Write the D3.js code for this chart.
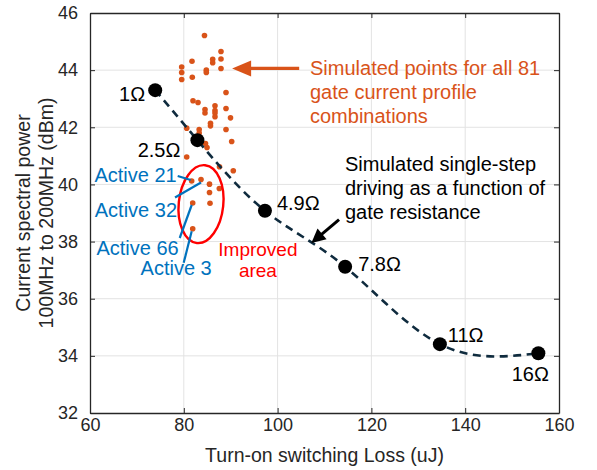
<!DOCTYPE html>
<html>
<head>
<meta charset="utf-8">
<script src="https://cdn.jsdelivr.net/npm/d3@7"></script>
<style>
  body { margin: 0; background: #fff; }
  svg { display: block; font-family: "Liberation Sans", Arial, Helvetica, sans-serif; }
</style>
</head>
<body>
<svg id="chart" width="597" height="470"></svg>
<script>
// Axis ticks
const xTicks = [60, 80, 100, 120, 140, 160];
const yTicks = [32, 34, 36, 38, 40, 42, 44, 46];

// Single-step driving, swept over gate resistance
const resistanceLabels = ["1Ω", "2.5Ω", "4.9Ω", "7.8Ω", "11Ω", "16Ω"];
const resistanceLoss   = [73.9, 82.9, 97.3, 114.4, 134.6, 155.6];
const resistancePower  = [43.3, 41.55, 39.08, 37.12, 34.41, 34.09];

// Gate current profile combinations (turn-on loss in uJ, spectral power in dBm)
const comboLoss = [
  84.41, 87.93, 87.93, 87.93, 86.16, 86.16, 81.75, 79.55, 79.55, 79.55,
  81.81, 84.80, 84.80, 89.00, 81.96, 83.03, 84.52, 84.52, 86.65, 86.65,
  86.65, 86.65, 89.00, 89.96, 85.69, 85.69, 89.00, 83.28, 83.28, 80.62,
  84.63, 84.95, 90.21, 80.62, 87.61, 90.55, 81.68, 83.67, 85.48, 87.57,
  85.48, 85.59, 81.90, 81.90
];
const comboPower = [
  45.21, 44.65, 44.39, 44.06, 44.38, 44.26, 44.31, 44.11, 43.92, 43.67,
  43.75, 44.00, 43.92, 43.22, 42.93, 42.87, 42.62, 42.50, 42.75, 42.59,
  42.50, 42.37, 42.66, 42.33, 42.14, 42.05, 41.92, 41.92, 41.80, 41.97,
  41.43, 41.29, 41.50, 40.96, 40.62, 40.48, 40.12, 40.17, 40.01, 39.86,
  39.72, 39.34, 39.35, 38.45
];

// Highlighted profiles inside the improved area
const activeLabels = ["Active 21", "Active 32", "Active 66", "Active 3"];
const activeLoss   = [81.68, 83.67, 81.90, 81.90];
const activePower  = [40.12, 40.17, 39.35, 38.45];

const W = 597, H = 470;
const margin = { top: 13, right: 38, bottom: 57, left: 90 };

const svg = d3.select("#chart");
const x = d3.scaleLinear().domain([60, 160]).range([margin.left, W - margin.right]);
const y = d3.scaleLinear().domain([32, 46]).range([H - margin.bottom, margin.top]);

const axisColor = "#262626";
const orange = "#D95319";
const blue = "#0072BD";
const red = "#FF0000";

// Grid
const grid = svg.append("g").attr("stroke", "#e3e3e3").attr("stroke-width", 1);
grid.selectAll("line.gx").data(xTicks.slice(1, -1)).join("line")
  .attr("x1", d => x(d)).attr("x2", d => x(d))
  .attr("y1", y(32)).attr("y2", y(46));
grid.selectAll("line.gy").data(yTicks.slice(1, -1)).join("line")
  .attr("x1", x(60)).attr("x2", x(160))
  .attr("y1", d => y(d)).attr("y2", d => y(d));

// Axes with inward ticks on all four sides
function styleAxis(g) {
  g.select(".domain").attr("stroke", axisColor).attr("stroke-width", 1.3);
  g.selectAll(".tick line").attr("stroke", axisColor).attr("stroke-width", 1);
  g.selectAll(".tick text").attr("fill", "#262626").style("font-size", "18px")
    .style("font-family", "'Liberation Sans', Arial, sans-serif");
}
svg.append("g").attr("transform", `translate(0,${y(32)})`)
  .call(d3.axisBottom(x).tickValues(xTicks).tickSize(-5).tickPadding(9).tickSizeOuter(0))
  .call(styleAxis)
  .call(g => g.selectAll(".tick text").attr("dy", "0.71em").attr("y", 5));
svg.append("g").attr("transform", `translate(0,${y(46)})`)
  .call(d3.axisTop(x).tickValues(xTicks).tickSize(-5).tickFormat("").tickSizeOuter(0))
  .call(styleAxis);
svg.append("g").attr("transform", `translate(${x(60)},0)`)
  .call(d3.axisLeft(y).tickValues(yTicks).tickSize(-5).tickPadding(12).tickSizeOuter(0))
  .call(styleAxis);
svg.append("g").attr("transform", `translate(${x(160)},0)`)
  .call(d3.axisRight(y).tickValues(yTicks).tickSize(-5).tickFormat("").tickSizeOuter(0))
  .call(styleAxis);

// Axis titles
svg.append("text")
  .attr("x", (x(60) + x(160)) / 2).attr("y", 462)
  .attr("text-anchor", "middle").attr("fill", "#262626")
  .style("font-size", "19.5px")
  .text("Turn-on switching Loss (uJ)");
const yMid = (y(32) + y(46)) / 2;
svg.append("text")
  .attr("transform", `translate(30,${yMid}) rotate(-90)`)
  .attr("text-anchor", "middle").attr("fill", "#262626")
  .style("font-size", "19.5px")
  .text("Current spectral power");
svg.append("text")
  .attr("transform", `translate(53,${yMid}) rotate(-90)`)
  .attr("text-anchor", "middle").attr("fill", "#262626")
  .style("font-size", "19.5px")
  .text("100MHz to 200MHz (dBm)");

// Profile combination points
svg.append("g").selectAll("circle").data(d3.range(comboLoss.length)).join("circle")
  .attr("cx", i => x(comboLoss[i]))
  .attr("cy", i => y(comboPower[i]))
  .attr("r", 2.8)
  .attr("fill", orange);

// Single-step resistance sweep: dashed fitted curve and markers
const sweep = d3.range(resistanceLoss.length).map(i => [resistanceLoss[i], resistancePower[i]]);
svg.append("path")
  .datum(sweep)
  .attr("d", d3.line().x(d => x(d[0])).y(d => y(d[1])).curve(d3.curveNatural))
  .attr("fill", "none")
  .attr("stroke", "#0f2b3e")
  .attr("stroke-width", 2.6)
  .attr("stroke-dasharray", "8,5.5");
svg.append("g").selectAll("circle").data(sweep).join("circle")
  .attr("cx", d => x(d[0])).attr("cy", d => y(d[1]))
  .attr("r", 7).attr("fill", "#000");

const resOffsets = [
  [-10, 11, "end"], [-17, 17, "end"], [12, -1, "start"],
  [13, 4, "start"], [8, -2, "start"], [-8, 28, "middle"]
];
svg.append("g").selectAll("text").data(sweep).join("text")
  .attr("x", (d, i) => x(d[0]) + resOffsets[i][0])
  .attr("y", (d, i) => y(d[1]) + resOffsets[i][1])
  .attr("text-anchor", (d, i) => resOffsets[i][2])
  .attr("fill", "#000")
  .style("font-size", "20px")
  .text((d, i) => resistanceLabels[i]);

// Improved area ellipse
const ellCx = x(83.67), ellCy = y(39.31);
svg.append("ellipse")
  .attr("cx", ellCx).attr("cy", ellCy)
  .attr("rx", x(60 + 4.75) - x(60)).attr("ry", y(32) - y(32 + 1.37))
  .attr("transform", `rotate(6,${ellCx},${ellCy})`)
  .attr("fill", "none").attr("stroke", red).attr("stroke-width", 2.4);

// Active profile callouts
const activeLayout = [
  { line: [-14, -5], end: [-1, -1], text: [-15, 1] },
  { line: [-26, 18], end: [0, 3], text: [-24, 37] },
  { line: [-13, 35], end: [-1, 2], text: [-14, 52] },
  { line: [-9, 34], end: [-1, 2.5], text: [19, 46] }
];
const callouts = svg.append("g");
activeLabels.forEach((lab, i) => {
  const px = x(activeLoss[i]), py = y(activePower[i]);
  const L = activeLayout[i];
  callouts.append("line")
    .attr("x1", px + L.line[0]).attr("y1", py + L.line[1])
    .attr("x2", px + L.end[0]).attr("y2", py + L.end[1])
    .attr("stroke", blue).attr("stroke-width", 2.2);
  callouts.append("text")
    .attr("x", px + L.text[0]).attr("y", py + L.text[1])
    .attr("text-anchor", "end").attr("fill", blue)
    .style("font-size", "20px").text(lab);
});

// Improved area label
const impX = x(95.8);
svg.append("text").attr("x", impX).attr("y", 256).attr("text-anchor", "middle")
  .attr("fill", red).style("font-size", "19px").text("Improved");
svg.append("text").attr("x", impX).attr("y", 277).attr("text-anchor", "middle")
  .attr("fill", red).style("font-size", "19px").text("area");

// Arrow helper
function arrow(x1, y1, x2, y2, color, width, headLen, headHalf) {
  const ang = Math.atan2(y2 - y1, x2 - x1);
  const bx = x2 - headLen * Math.cos(ang), by = y2 - headLen * Math.sin(ang);
  svg.append("line")
    .attr("x1", x1).attr("y1", y1).attr("x2", bx + Math.cos(ang)).attr("y2", by + Math.sin(ang))
    .attr("stroke", color).attr("stroke-width", width);
  const nx = -Math.sin(ang), ny = Math.cos(ang);
  svg.append("path")
    .attr("d", `M${x2},${y2}L${bx + nx * headHalf},${by + ny * headHalf}L${bx - nx * headHalf},${by - ny * headHalf}Z`)
    .attr("fill", color);
}

// Orange annotation
arrow(x(104.6), y(44.06), x(90.3), y(44.06), orange, 3.2, 19, 8);
const orangeText = ["Simulated points for all 81", "gate current profile", "combinations"];
svg.append("g").selectAll("text").data(orangeText).join("text")
  .attr("x", 310).attr("y", (d, i) => 75 + i * 24)
  .attr("fill", orange).style("font-size", "20px").text(d => d);

// Black annotation
arrow(x(113.1), y(38.77), x(107.2), y(37.95), "#000", 3, 14, 7);
const blackText = ["Simulated single-step", "driving as a function of", "gate resistance"];
svg.append("g").selectAll("text").data(blackText).join("text")
  .attr("x", 345).attr("y", (d, i) => 171 + i * 24)
  .attr("fill", "#000").style("font-size", "20px").text(d => d);
</script>
</body>
</html>
